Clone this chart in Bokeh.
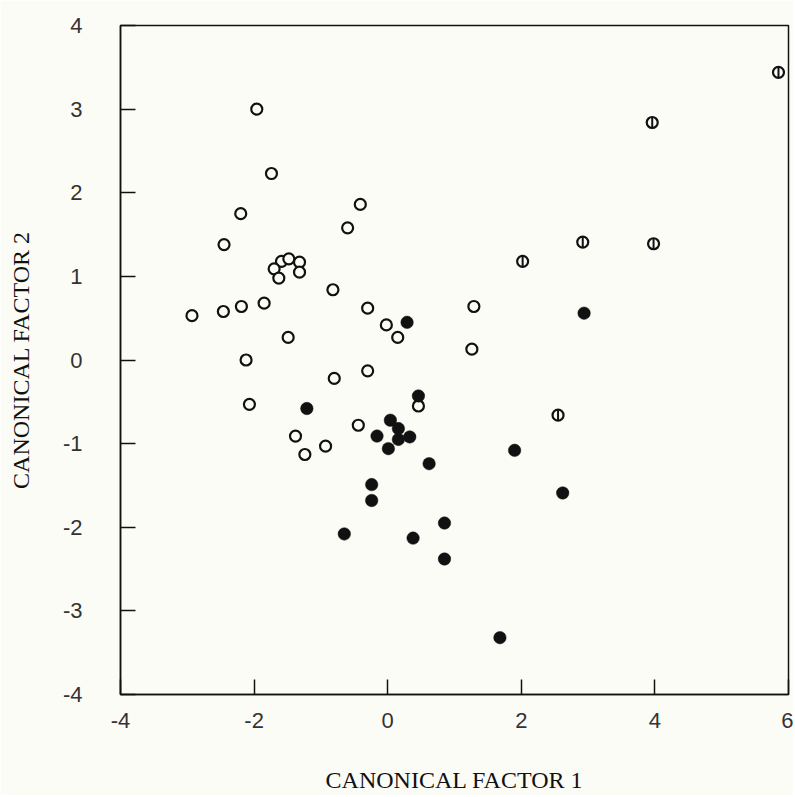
import math
from bokeh.plotting import figure
from bokeh.models import Range1d, FixedTicker
from bokeh.embed import file_html
from bokeh.resources import INLINE

# Open circles (group 1)
open_x = [-1.96, -1.74, -0.41, -2.20, -0.60, -2.45, -1.59, -1.48, -1.32, -1.70, -1.32, -1.63,
          -0.82, -2.93, -2.46, -2.19, -1.85, -0.30, -0.02, -1.49, 0.15, -2.12, -0.30, -0.80,
          -2.07, -0.44, -1.38, -0.93, -1.24, 1.29, 1.26, 0.46]
open_y = [3.00, 2.23, 1.86, 1.75, 1.58, 1.38, 1.18, 1.21, 1.17, 1.09, 1.05, 0.98,
          0.84, 0.53, 0.58, 0.64, 0.68, 0.62, 0.42, 0.27, 0.27, 0.00, -0.13, -0.22,
          -0.53, -0.78, -0.91, -1.03, -1.13, 0.64, 0.13, -0.55]

# Filled circles (group 2)
filled_x = [0.29, 2.94, -1.21, 0.46, 0.04, 0.16, -0.16, 0.16, 0.33, 0.01, 0.62, 1.90,
            -0.24, -0.24, 2.62, 0.85, -0.65, 0.38, 0.85, 1.68]
filled_y = [0.45, 0.56, -0.58, -0.43, -0.72, -0.82, -0.91, -0.95, -0.92, -1.06, -1.24, -1.08,
            -1.49, -1.68, -1.59, -1.95, -2.08, -2.13, -2.38, -3.32]

# Circles with vertical bar (group 3)
theta_x = [5.85, 3.96, 2.92, 3.98, 2.02, 2.55]
theta_y = [3.44, 2.84, 1.41, 1.39, 1.18, -0.66]

x_ticks = [-4, -2, 0, 2, 4, 6]
x_tick_labels = ["-4", "-2", "0", "2", "4", "6"]
y_ticks = [-4, -3, -2, -1, 0, 1, 2, 3, 4]
y_tick_labels = ["-4", "-3", "-2", "-1", "0", "1", "2", "3", "4"]

BG = "#fcfcf7"
INK = "#111111"

p = figure(width=793, height=795, output_backend="svg", toolbar_location=None,
           x_range=Range1d(-4, 6), y_range=Range1d(-4, 4),
           min_border_left=120, min_border_right=5, min_border_top=25, min_border_bottom=101,
           background_fill_color=BG, border_fill_color=BG)

p.grid.visible = False
p.outline_line_color = INK
p.outline_line_width = 1.5

for ax, ticks, labels in ((p.xaxis[0], x_ticks, x_tick_labels), (p.yaxis[0], y_ticks, y_tick_labels)):
    ax.ticker = FixedTicker(ticks=ticks)
    ax.major_label_overrides = {t: l for t, l in zip(ticks, labels)}
    ax.major_tick_in = 15
    ax.major_tick_out = 0
    ax.minor_tick_line_color = None
    ax.axis_line_color = INK
    ax.axis_line_width = 1.5
    ax.major_tick_line_color = INK
    ax.major_tick_line_width = 1.5
    ax.major_label_text_font = "Liberation Sans"
    ax.major_label_text_font_size = "22px"
    ax.major_label_text_color = "#333333"
    ax.axis_label_text_font = "Liberation Serif"
    ax.axis_label_text_font_size = "24px"
    ax.axis_label_text_font_style = "normal"
    ax.axis_label_text_color = INK

p.xaxis.axis_label = "CANONICAL FACTOR 1"
p.yaxis.axis_label = "CANONICAL FACTOR 2"
p.xaxis.major_label_standoff = 18
p.xaxis.axis_label_standoff = 36
p.yaxis.major_label_standoff = 38
p.yaxis.axis_label_standoff = 26

p.scatter(open_x, open_y, marker="circle", size=11, line_width=2.2,
          line_color=INK, fill_color=BG)
p.scatter(filled_x, filled_y, marker="circle", size=12.5, line_width=0.5,
          line_color=INK, fill_color=INK)
p.scatter(theta_x, theta_y, marker="circle", size=11, line_width=2.2,
          line_color=INK, fill_color=BG)
p.scatter(theta_x, theta_y, marker="dash", size=10, angle=math.pi / 2, line_width=2,
          line_color=INK)

open("out.html", "w").write(file_html(p, INLINE))
